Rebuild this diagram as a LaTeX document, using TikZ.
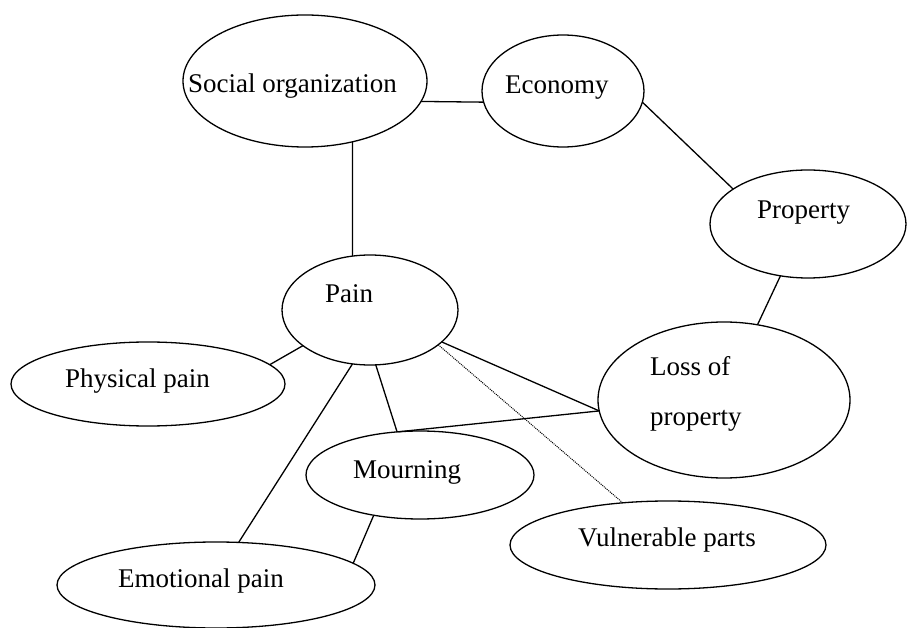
\documentclass[tikz,border=0pt]{standalone}
\usepackage{fontspec}
\setmainfont{Liberation Serif}
\usetikzlibrary{shapes.geometric}
\begin{document}
\begin{tikzpicture}[x=1pt,y=-1pt,
  bubble/.style={draw, ellipse, line width=1.3pt, inner sep=0pt, outer sep=0pt},
  lbl/.style={font=\fontsize{27}{32}\selectfont, inner sep=0pt, anchor=base west},
  link/.style={line width=1.3pt},
  weak/.style={line width=1pt, densely dotted}]
\useasboundingbox (0,0) rectangle (908,628);

% concept bubbles
\node[bubble, minimum width=244pt, minimum height=132pt] (soc)   at (305,81)  {};
\node[bubble, minimum width=162pt, minimum height=112pt] (econ)  at (563,91)  {};
\node[bubble, minimum width=196pt, minimum height=108pt] (prop)  at (808,224) {};
\node[bubble, minimum width=176pt, minimum height=110pt] (pain)  at (370,310) {};
\node[bubble, minimum width=274pt, minimum height=84pt]  (phys)  at (148,384) {};
\node[bubble, minimum width=252pt, minimum height=156pt] (loss)  at (724,400) {};
\node[bubble, minimum width=228pt, minimum height=88pt]  (mourn) at (420,475) {};
\node[bubble, minimum width=316pt, minimum height=88pt]  (vuln)  at (668,545) {};
\node[bubble, minimum width=318pt, minimum height=86pt]  (emo)   at (216,585) {};

% labels
\node[lbl] (soc-t)   at (188,93)  {Social organization};
\node[lbl] (econ-t)  at (505,94)  {Economy};
\node[lbl] (prop-t)  at (757,219) {Property};
\node[lbl] (pain-t)  at (325,303) {Pain};
\node[lbl] (phys-t)  at (65,388)  {Physical pain};
\node[lbl] (loss-t1) at (650,376) {Loss of};
\node[lbl] (loss-t2) at (650,425) {property};
\node[lbl] (mourn-t) at (353,478) {Mourning};
\node[lbl] (vuln-t)  at (578,546) {Vulnerable parts};
\node[lbl] (emo-t)   at (118,587) {Emotional pain};

% connections
\draw[link] (soc.-10.2)   -- (econ.188.3);
\draw[link] (soc.-52.4)   -- (pain.108.4);
\draw[link] (econ.-8.7)   -- (prop.155.6);
\draw[link] (prop.-118.4) -- (loss.66.3);
\draw[link] (pain.-152.1) -- (phys.9.9);
\draw[link] (pain.-108.4) -- (emo.62.9);
\draw[link] (pain.-84.8)  -- (mourn.118);
\draw[link] (mourn.117)   -- (loss.185);
\draw[link] (pain.-24)    -- (loss.185);
\draw[link] (mourn.-139.6) -- (emo.9.5);
\draw[weak] (pain.-27)    -- (vuln.137);
\end{tikzpicture}
\end{document}
